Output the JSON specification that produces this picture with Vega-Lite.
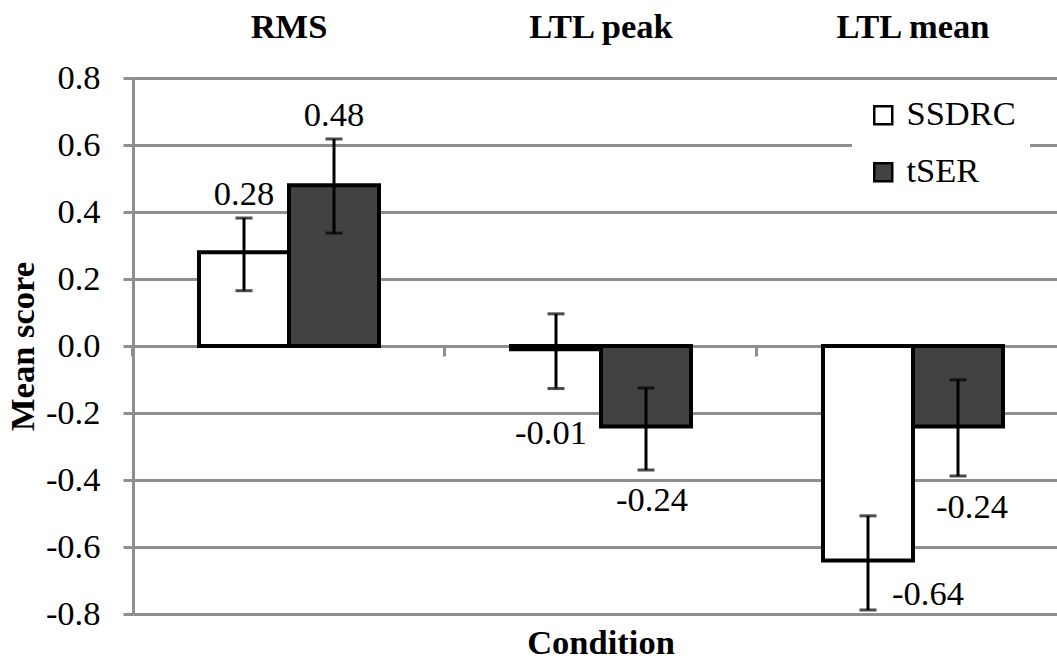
{
  "$schema": "https://vega.github.io/schema/vega-lite/v6.json",
  "width": 936,
  "height": 536,
  "autosize": "none",
  "padding": {"left": 133, "top": 78, "right": 0, "bottom": 52},
  "background": "white",
  "config": {
    "view": {"stroke": null},
    "locale": {"number": {"decimal": ".", "thousands": ",", "grouping": [3], "currency": ["$", ""], "minus": "-"}},
    "text": {"font": "Liberation Serif"}
  },
  "title": {"text": "Condition", "orient": "bottom", "anchor": "middle", "font": "Liberation Serif", "fontSize": 34.5, "fontWeight": "bold", "color": "black", "offset": -4},
  "data": {"values": [
    {"condition": "RMS", "group": "SSDRC", "value": 0.28, "lo": 0.165, "hi": 0.382},
    {"condition": "RMS", "group": "tSER", "value": 0.48, "lo": 0.337, "hi": 0.618},
    {"condition": "LTL peak", "group": "SSDRC", "value": -0.01, "lo": -0.127, "hi": 0.096},
    {"condition": "LTL peak", "group": "tSER", "value": -0.24, "lo": -0.37, "hi": -0.125},
    {"condition": "LTL mean", "group": "SSDRC", "value": -0.64, "lo": -0.788, "hi": -0.507},
    {"condition": "LTL mean", "group": "tSER", "value": -0.24, "lo": -0.388, "hi": -0.101}
  ]},
  "resolve": {"axis": {"x": "independent"}},
  "layer": [
    {
      "mark": {"type": "bar", "stroke": "black", "strokeWidth": 4},
      "encoding": {
        "x": {"field": "condition", "type": "nominal", "sort": ["RMS", "LTL peak", "LTL mean"],
          "scale": {"domain": ["RMS", "LTL peak", "LTL mean"], "paddingInner": 0.423, "paddingOuter": 0.2115},
          "axis": {"orient": "top", "title": null, "domain": false, "ticks": false, "labelAngle": 0, "labelFont": "Liberation Serif", "labelFontSize": 34.5, "labelFontWeight": "bold", "labelColor": "black", "labelBaseline": "alphabetic", "labelPadding": 41}},
        "xOffset": {"field": "group", "type": "nominal", "scale": {"domain": ["SSDRC", "tSER"], "paddingInner": 0, "paddingOuter": 0}},
        "y": {"field": "value", "type": "quantitative", "title": "Mean score",
          "scale": {"domain": [-0.8, 0.8], "nice": false, "zero": false},
          "axis": {"title": "Mean score", "values": [-0.8, -0.6, -0.4, -0.2, 0, 0.2, 0.4, 0.6, 0.8], "format": ".1f",
            "labelFont": "Liberation Serif", "labelFontSize": 34.5, "labelColor": "black", "labelPadding": 23,
            "domainColor": "#8f8f8f", "domainWidth": 3, "tickColor": "#8f8f8f", "tickWidth": 3, "tickSize": 10,
            "grid": true, "gridColor": "#8f8f8f", "gridWidth": 3,
            "titleFont": "Liberation Serif", "titleFontSize": 34.5, "titleFontWeight": "bold", "titleColor": "black", "titlePadding": 5}},
        "color": {"field": "group", "type": "nominal",
          "scale": {"domain": ["SSDRC", "tSER"], "range": ["#ffffff", "#424242"]},
          "legend": {"orient": "none", "legendX": 719, "legendY": 6, "padding": 14, "fillColor": "white", "title": null,
            "labelFont": "Liberation Serif", "labelFontSize": 34.5, "labelColor": "black", "labelOffset": 6,
            "symbolType": "square", "symbolSize": 324, "symbolStrokeColor": "black", "symbolStrokeWidth": 2.5, "rowPadding": 22}}
      }
    },
    {
      "mark": {"type": "rule", "color": "black", "strokeWidth": 3},
      "encoding": {
        "x": {"field": "condition", "type": "nominal", "sort": ["RMS", "LTL peak", "LTL mean"],
          "axis": {"orient": "bottom", "offset": -268, "title": null, "labels": false, "grid": false, "bandPosition": -0.3667,
            "domainColor": "#8f8f8f", "domainWidth": 3, "tickColor": "#8f8f8f", "tickWidth": 3, "tickSize": 10}},
        "xOffset": {"field": "group", "type": "nominal"},
        "y": {"field": "lo", "type": "quantitative", "title": "Mean score"},
        "y2": {"field": "hi"}
      }
    },
    {
      "mark": {"type": "tick", "color": "black", "size": 17, "thickness": 3, "orient": "horizontal"},
      "encoding": {
        "x": {"field": "condition", "type": "nominal", "sort": ["RMS", "LTL peak", "LTL mean"], "axis": null},
        "xOffset": {"field": "group", "type": "nominal"},
        "y": {"field": "lo", "type": "quantitative", "title": "Mean score"}
      }
    },
    {
      "mark": {"type": "tick", "color": "black", "size": 17, "thickness": 3, "orient": "horizontal"},
      "encoding": {
        "x": {"field": "condition", "type": "nominal", "sort": ["RMS", "LTL peak", "LTL mean"], "axis": null},
        "xOffset": {"field": "group", "type": "nominal"},
        "y": {"field": "hi", "type": "quantitative", "title": "Mean score"}
      }
    },
    {
      "transform": [{"filter": "datum.condition === 'RMS'"}],
      "mark": {"type": "text", "font": "Liberation Serif", "fontSize": 34.5, "color": "black", "baseline": "alphabetic", "dy": -13},
      "encoding": {
        "x": {"field": "condition", "type": "nominal", "sort": ["RMS", "LTL peak", "LTL mean"], "axis": null},
        "xOffset": {"field": "group", "type": "nominal"},
        "y": {"field": "hi", "type": "quantitative", "title": "Mean score"},
        "text": {"field": "value", "type": "quantitative", "format": ".2f"}
      }
    },
    {
      "transform": [{"filter": "datum.condition === 'LTL peak' && datum.group === 'SSDRC'"}],
      "mark": {"type": "text", "font": "Liberation Serif", "fontSize": 34.5, "color": "black", "baseline": "alphabetic", "dy": 55, "dx": -5},
      "encoding": {
        "x": {"field": "condition", "type": "nominal", "sort": ["RMS", "LTL peak", "LTL mean"], "axis": null},
        "xOffset": {"field": "group", "type": "nominal"},
        "y": {"field": "lo", "type": "quantitative", "title": "Mean score"},
        "text": {"field": "value", "type": "quantitative", "format": ".2f"}
      }
    },
    {
      "transform": [{"filter": "datum.condition === 'LTL peak' && datum.group === 'tSER'"}],
      "mark": {"type": "text", "font": "Liberation Serif", "fontSize": 34.5, "color": "black", "baseline": "alphabetic", "dy": 41, "dx": 6},
      "encoding": {
        "x": {"field": "condition", "type": "nominal", "sort": ["RMS", "LTL peak", "LTL mean"], "axis": null},
        "xOffset": {"field": "group", "type": "nominal"},
        "y": {"field": "lo", "type": "quantitative", "title": "Mean score"},
        "text": {"field": "value", "type": "quantitative", "format": ".2f"}
      }
    },
    {
      "transform": [{"filter": "datum.condition === 'LTL mean' && datum.group === 'tSER'"}],
      "mark": {"type": "text", "font": "Liberation Serif", "fontSize": 34.5, "color": "black", "baseline": "alphabetic", "dy": 42, "dx": 14},
      "encoding": {
        "x": {"field": "condition", "type": "nominal", "sort": ["RMS", "LTL peak", "LTL mean"], "axis": null},
        "xOffset": {"field": "group", "type": "nominal"},
        "y": {"field": "lo", "type": "quantitative", "title": "Mean score"},
        "text": {"field": "value", "type": "quantitative", "format": ".2f"}
      }
    },
    {
      "transform": [{"filter": "datum.condition === 'LTL mean' && datum.group === 'SSDRC'"}],
      "mark": {"type": "text", "font": "Liberation Serif", "fontSize": 34.5, "color": "black", "baseline": "alphabetic", "dy": -5, "dx": 60},
      "encoding": {
        "x": {"field": "condition", "type": "nominal", "sort": ["RMS", "LTL peak", "LTL mean"], "axis": null},
        "xOffset": {"field": "group", "type": "nominal"},
        "y": {"field": "lo", "type": "quantitative", "title": "Mean score"},
        "text": {"field": "value", "type": "quantitative", "format": ".2f"}
      }
    }
  ]
}
